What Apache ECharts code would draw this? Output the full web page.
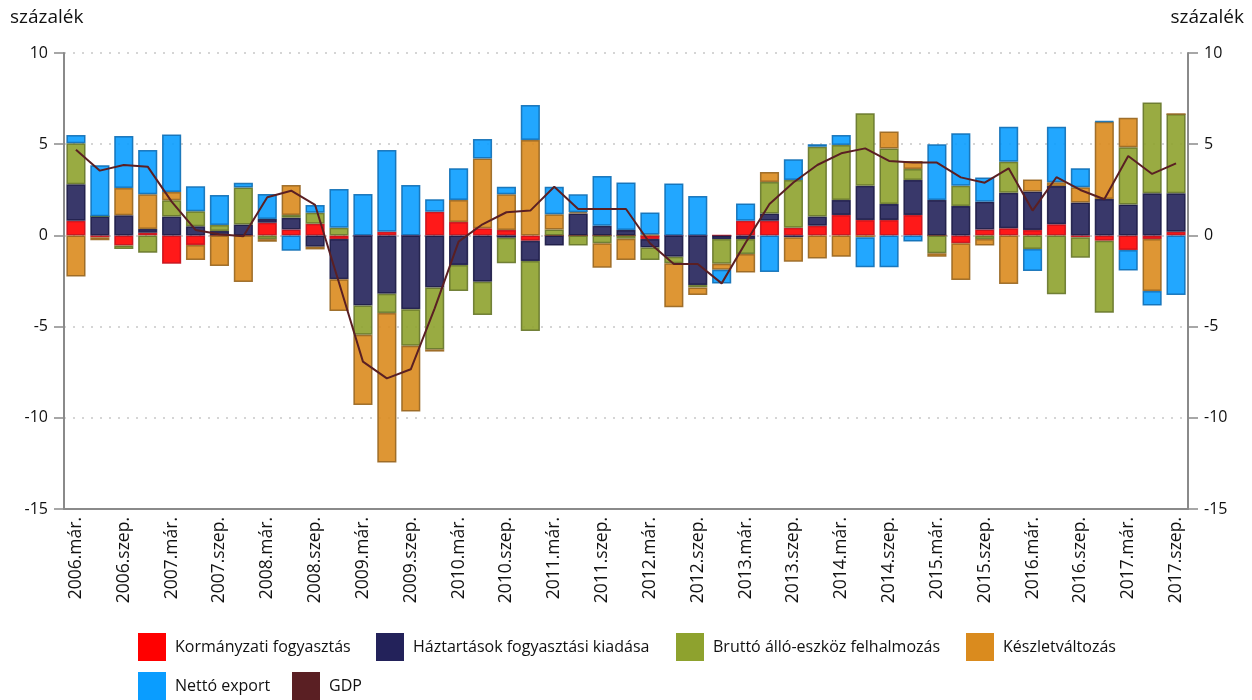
<!DOCTYPE html>
<html>
<head>
<meta charset="utf-8">
<script src="https://cdn.jsdelivr.net/npm/echarts@6/dist/echarts.min.js"></script>
<style>
html,body{margin:0;padding:0;background:#fff;}
#chart{width:1252px;height:700px;}
</style>
</head>
<body>
<div id="chart"></div>
<script>
const categories = [
 '2006.már.','2006.jún.','2006.szep.','2006.dec.',
 '2007.már.','2007.jún.','2007.szep.','2007.dec.',
 '2008.már.','2008.jún.','2008.szep.','2008.dec.',
 '2009.már.','2009.jún.','2009.szep.','2009.dec.',
 '2010.már.','2010.jún.','2010.szep.','2010.dec.',
 '2011.már.','2011.jún.','2011.szep.','2011.dec.',
 '2012.már.','2012.jún.','2012.szep.','2012.dec.',
 '2013.már.','2013.jún.','2013.szep.','2013.dec.',
 '2014.már.','2014.jún.','2014.szep.','2014.dec.',
 '2015.már.','2015.jún.','2015.szep.','2015.dec.',
 '2016.már.','2016.jún.','2016.szep.','2016.dec.',
 '2017.már.','2017.jún.','2017.szep.'
];
const seriesNames = ['Kormányzati fogyasztás','Háztartások fogyasztási kiadása','Bruttó álló-eszköz felhalmozás','Készletváltozás','Nettó export','GDP'];
const kormanyzati = [0.8,-0.1,-0.55,0.15,-1.55,-0.53,0,0,0.7,0.33,0.64,-0.2,0,0.2,0,1.3,0.74,0.39,0.3,-0.3,0,0,0,0,-0.2,0,0,0,0.8,0.8,0.42,0.53,1.12,0.84,0.84,1.12,0,-0.43,0.33,0.39,0.3,0.61,-0.1,-0.29,-0.8,-0.2,0.2];
const haztartasok = [2.0,1.05,1.1,0.2,1.03,0.5,0.24,0.6,0.2,0.64,-0.62,-2.2,-3.85,-3.2,-4.05,-2.85,-1.62,-2.54,-0.13,-1.1,-0.56,1.2,0.53,0.3,-0.47,-1.17,-2.72,-0.2,-0.2,0.4,-0.1,0.5,0.82,1.88,0.88,1.92,1.94,1.61,1.52,1.95,2.1,2.1,1.81,2.0,1.7,2.31,2.11];
const brutto = [2.25,0,-0.2,-0.95,0.9,0.83,0.33,2.03,-0.2,0.15,0.6,0.42,-1.6,-1.05,-2.0,-3.4,-1.43,-1.82,-1.4,-3.84,0.33,-0.56,-0.43,-0.18,-0.68,-0.36,-0.13,-1.35,-0.82,1.73,2.62,3.83,3.02,3.97,3.05,0.6,-0.98,1.11,-0.2,1.7,-0.75,-3.23,-1.12,-3.95,3.13,4.97,4.35];
const keszlet = [-2.25,-0.17,1.5,1.9,0.45,-0.82,-1.68,-2.55,-0.15,1.64,-0.15,-1.75,-3.85,-8.2,-3.6,-0.12,1.2,3.83,1.95,5.23,0.83,0.07,-1.34,-1.17,0.05,-2.41,-0.42,-0.33,-1.02,0.55,-1.34,-1.26,-1.17,-0.1,0.92,0.44,-0.19,-2.02,-0.36,-2.66,0.67,0.2,0.83,4.23,1.62,-2.85,0];
const nettoExport = [0.45,2.8,2.85,2.43,3.15,1.36,1.64,0.25,1.37,-0.84,0.42,2.12,2.27,4.48,2.76,0.68,1.74,1.06,0.42,1.92,1.51,0.98,2.73,2.6,1.2,2.85,2.16,-0.76,0.95,-2.0,1.13,0.14,0.54,-1.65,-1.75,-0.34,3.06,2.88,1.32,1.92,-1.2,3.05,1.04,0.04,-1.13,-0.8,-3.27];
const gdp = [4.7,3.55,3.86,3.77,1.85,0.3,0.06,-0.05,2.09,2.45,1.67,-2.6,-6.92,-7.84,-7.34,-4.0,-0.34,0.61,1.27,1.36,2.67,1.45,1.45,1.45,-0.43,-1.57,-1.57,-2.63,-0.4,1.72,2.9,3.86,4.5,4.77,4.08,4.0,3.99,3.18,2.89,3.68,1.36,3.19,2.49,1.98,4.35,3.37,3.95];
const yTicks = [-15,-10,-5,0,5,10];

const fills = ['#ff0000','#23225a','#8ea22e','#da8b1e','#0a9dff','#5a1f23'];
const borders = ['#c4101a','#1b1a45','#66762a','#97651f','#0e6eb5'];
const barData = [kormanyzati, haztartasok, brutto, keszlet, nettoExport];

const FONT = 'Open Sans';
const chart = echarts.init(document.getElementById('chart'), null, {renderer:'canvas'});

const barSeries = barData.map((d,i)=>({
  name: seriesNames[i], type:'bar', stack:'total', data:d,
  barCategoryGap:'20%',
  itemStyle:{color:fills[i], opacity:0.9, borderColor:borders[i], borderWidth:1.5},
  emphasis:{disabled:true}, z:2
}));

const legendPos = [
  {left:138, top:633},{left:376, top:633},{left:676, top:633},{left:966, top:633},
  {left:138, top:672},{left:292, top:672}
];
const legends = seriesNames.map((n,i)=>({
  data:[n], left:legendPos[i].left, top:legendPos[i].top, orient:'horizontal',
  padding:0,
  icon:'rect', itemWidth:28, itemHeight:28, itemGap:0,
  itemStyle:{opacity:1, borderWidth:0, color:fills[i]},
  lineStyle:{width:0},
  textStyle:{fontFamily:FONT, fontSize:16, color:'#111', padding:[0,0,0,4]},
  selectedMode:false
}));

const yAxisBase = {
  type:'value', min:yTicks[0], max:yTicks[yTicks.length-1], interval:5,
  axisLine:{show:true, onZero:false, lineStyle:{color:'#8a8a8a', width:2}},
  axisTick:{show:true, length:10, inside:false, lineStyle:{color:'#8a8a8a', width:1.5}},
  axisLabel:{fontFamily:FONT, fontSize:16, color:'#111', margin:16}
};

chart.setOption({
  animation:false,
  backgroundColor:'#fff',
  grid:{left:64, right:64, top:53, bottom:191, containLabel:false},
  legend: legends,
  graphic:[
    {type:'text', left:10, top:8, style:{text:'százalék', font:'19px "Open Sans"', fill:'#111'}},
    {type:'text', right:8, top:8, style:{text:'százalék', font:'19px "Open Sans"', fill:'#111'}}
  ],
  xAxis:{
    type:'category', data:categories, boundaryGap:true,
    axisLine:{show:true, onZero:false, lineStyle:{color:'#8a8a8a', width:2}},
    axisTick:{show:false},
    axisLabel:{interval:1, rotate:90, fontFamily:FONT, fontSize:17.5, color:'#111', margin:8},
    splitLine:{show:false}
  },
  yAxis:[
    Object.assign({}, yAxisBase, {position:'left',
      splitLine:{show:true, lineStyle:{color:'#c8c8c8', type:[2,7], width:1.5}}}),
    Object.assign({}, yAxisBase, {position:'right', splitLine:{show:false}})
  ],
  series: barSeries.concat([{
    name:'GDP', type:'line', data:gdp, showSymbol:false, symbol:'none',
    lineStyle:{color:fills[5], width:2}, itemStyle:{color:fills[5]}, z:5,
    emphasis:{disabled:true}
  }])
});
</script>
</body>
</html>
